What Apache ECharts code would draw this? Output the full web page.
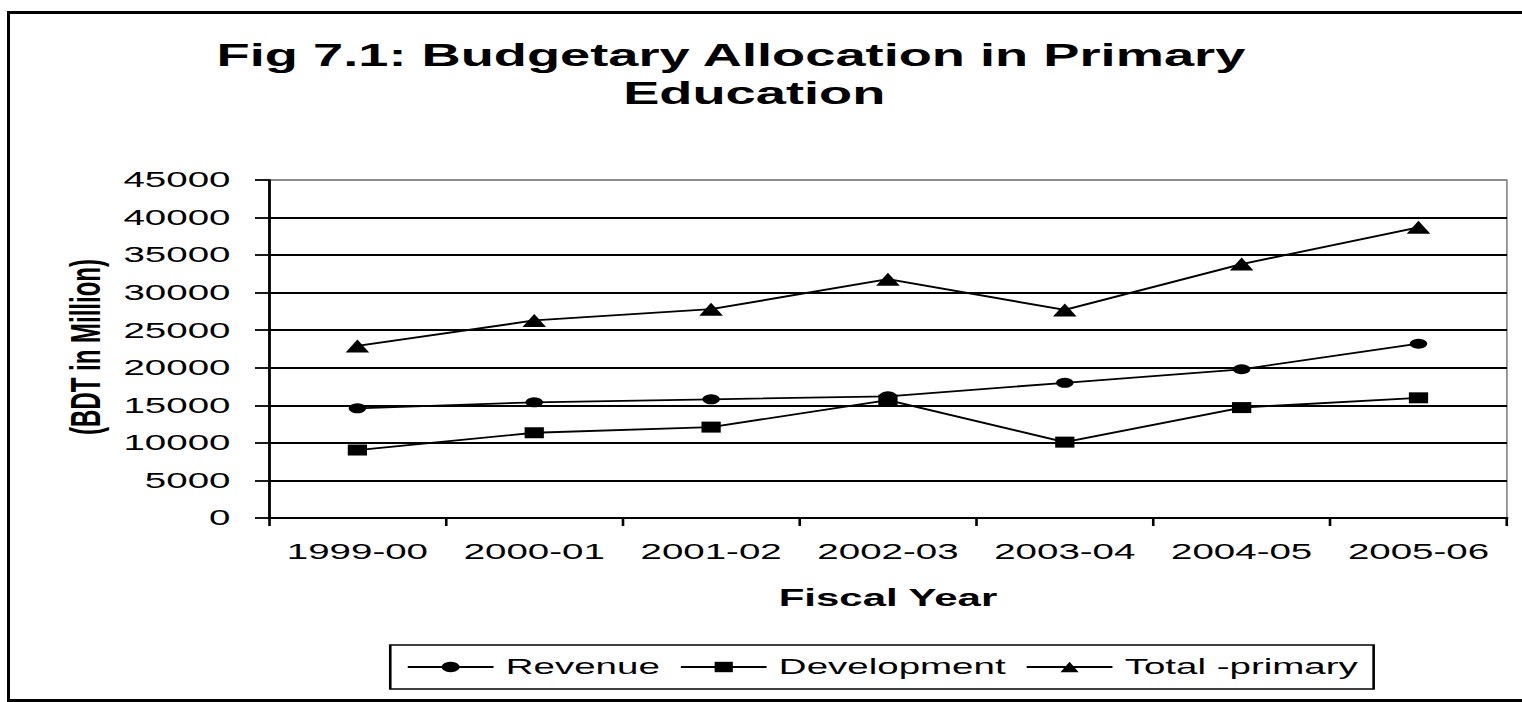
<!DOCTYPE html>
<html>
<head>
<meta charset="utf-8">
<script src="https://cdn.jsdelivr.net/npm/echarts@6/dist/echarts.min.js"></script>
<style>
  html, body { margin: 0; padding: 0; width: 1522px; height: 702px; overflow: hidden; background: #fff; }
  #frame { position: absolute; left: 7px; top: 11px; width: 1600px; height: 691px; box-sizing: border-box; border: 3px solid #000; }
  #c { position: absolute; left: 0; top: 0; width: 870px; height: 702px; transform: scaleX(1.75); transform-origin: 0 0; }
</style>
</head>
<body>
<div id="frame"></div>
<div id="c"></div>
<script>
// Data
const categories = ['1999-00', '2000-01', '2001-02', '2002-03', '2003-04', '2004-05', '2005-06'];
const revenue = [14600, 15400, 15800, 16200, 18000, 19800, 23200];
const development = [9050, 11350, 12100, 15700, 10100, 14700, 16000];
const totalPrimary = [22900, 26300, 27800, 31800, 27700, 33800, 38700];
const seriesNames = ['Revenue', 'Development', 'Total -primary'];
const titleLines = ['Fig 7.1: Budgetary Allocation in Primary', 'Education'];
const yAxisTitle = '(BDT in Million)';
const xAxisTitle = 'Fiscal Year';

const FONT = '"Liberation Sans", Arial, sans-serif';
const chart = echarts.init(document.getElementById('c'), null, { renderer: 'svg' });

const splitColors = [];
for (let i = 0; i < 9; i++) splitColors.push('#000');
splitColors.push('#8c8c8c');

function lineSeries(name, data, symbol, size) {
  return {
    name: name,
    type: 'line',
    data: data,
    symbol: symbol,
    symbolSize: size,
    showAllSymbol: true,
    lineStyle: { color: '#000', width: 1.8 },
    itemStyle: { color: '#000', borderWidth: 0 },
    emphasis: { disabled: true }
  };
}

chart.setOption({
  animation: false,
  backgroundColor: 'transparent',
  textStyle: { fontFamily: FONT },
  grid: {
    left: 153.7, right: 8.9, top: 180, bottom: 184,
    show: true, borderColor: '#8c8c8c', borderWidth: 1, backgroundColor: 'transparent'
  },
  legend: {
    left: 223, top: 645,
    padding: [11, 9, 11, 9],
    itemWidth: 49, itemHeight: 13, itemGap: 11,
    borderColor: '#000', borderWidth: 1.5,
    textStyle: { fontSize: 22, color: '#000', fontFamily: FONT, padding: [0, 0, 0, 2] },
    data: seriesNames,
    selectedMode: false
  },
  xAxis: {
    type: 'category',
    data: categories,
    boundaryGap: true,
    axisLine: { lineStyle: { color: '#000', width: 1.8 } },
    axisTick: { show: true, length: 8, lineStyle: { color: '#000', width: 1.5 } },
    axisLabel: { fontSize: 22, color: '#000', margin: 23, fontFamily: FONT, interval: 0 },
    splitLine: { show: false }
  },
  yAxis: {
    type: 'value',
    min: 0, max: 45000, interval: 5000,
    axisLine: { show: true, lineStyle: { color: '#000', width: 1.6 } },
    axisTick: { show: true, length: 8, lineStyle: { color: '#000', width: 1.8 } },
    axisLabel: { fontSize: 22, color: '#000', margin: 22, fontFamily: FONT, formatter: function (v) { return String(v); } },
    splitLine: { show: true, lineStyle: { color: splitColors, width: 1.8 } }
  },
  graphic: [
    { type: 'text', x: 417.7, y: 55, style: { text: titleLines[0], fill: '#000', font: 'bold 31px ' + FONT, textAlign: 'center', textVerticalAlign: 'middle' } },
    { type: 'text', x: 431, y: 93, style: { text: titleLines[1], fill: '#000', font: 'bold 31px ' + FONT, textAlign: 'center', textVerticalAlign: 'middle' } },
    { type: 'text', x: 48.6, y: 347, rotation: Math.PI / 2, style: { text: yAxisTitle, fill: '#000', font: 'bold 24px ' + FONT, textAlign: 'center', textVerticalAlign: 'middle' } },
    { type: 'text', x: 507.4, y: 598, style: { text: xAxisTitle, fill: '#000', font: 'bold 24px ' + FONT, textAlign: 'center', textVerticalAlign: 'middle' } }
  ],
  series: [
    lineSeries(seriesNames[0], revenue, 'circle', 10),
    lineSeries(seriesNames[1], development, 'rect', 11),
    lineSeries(seriesNames[2], totalPrimary, 'triangle', [13.5, 13])
  ]
});
</script>
</body>
</html>
